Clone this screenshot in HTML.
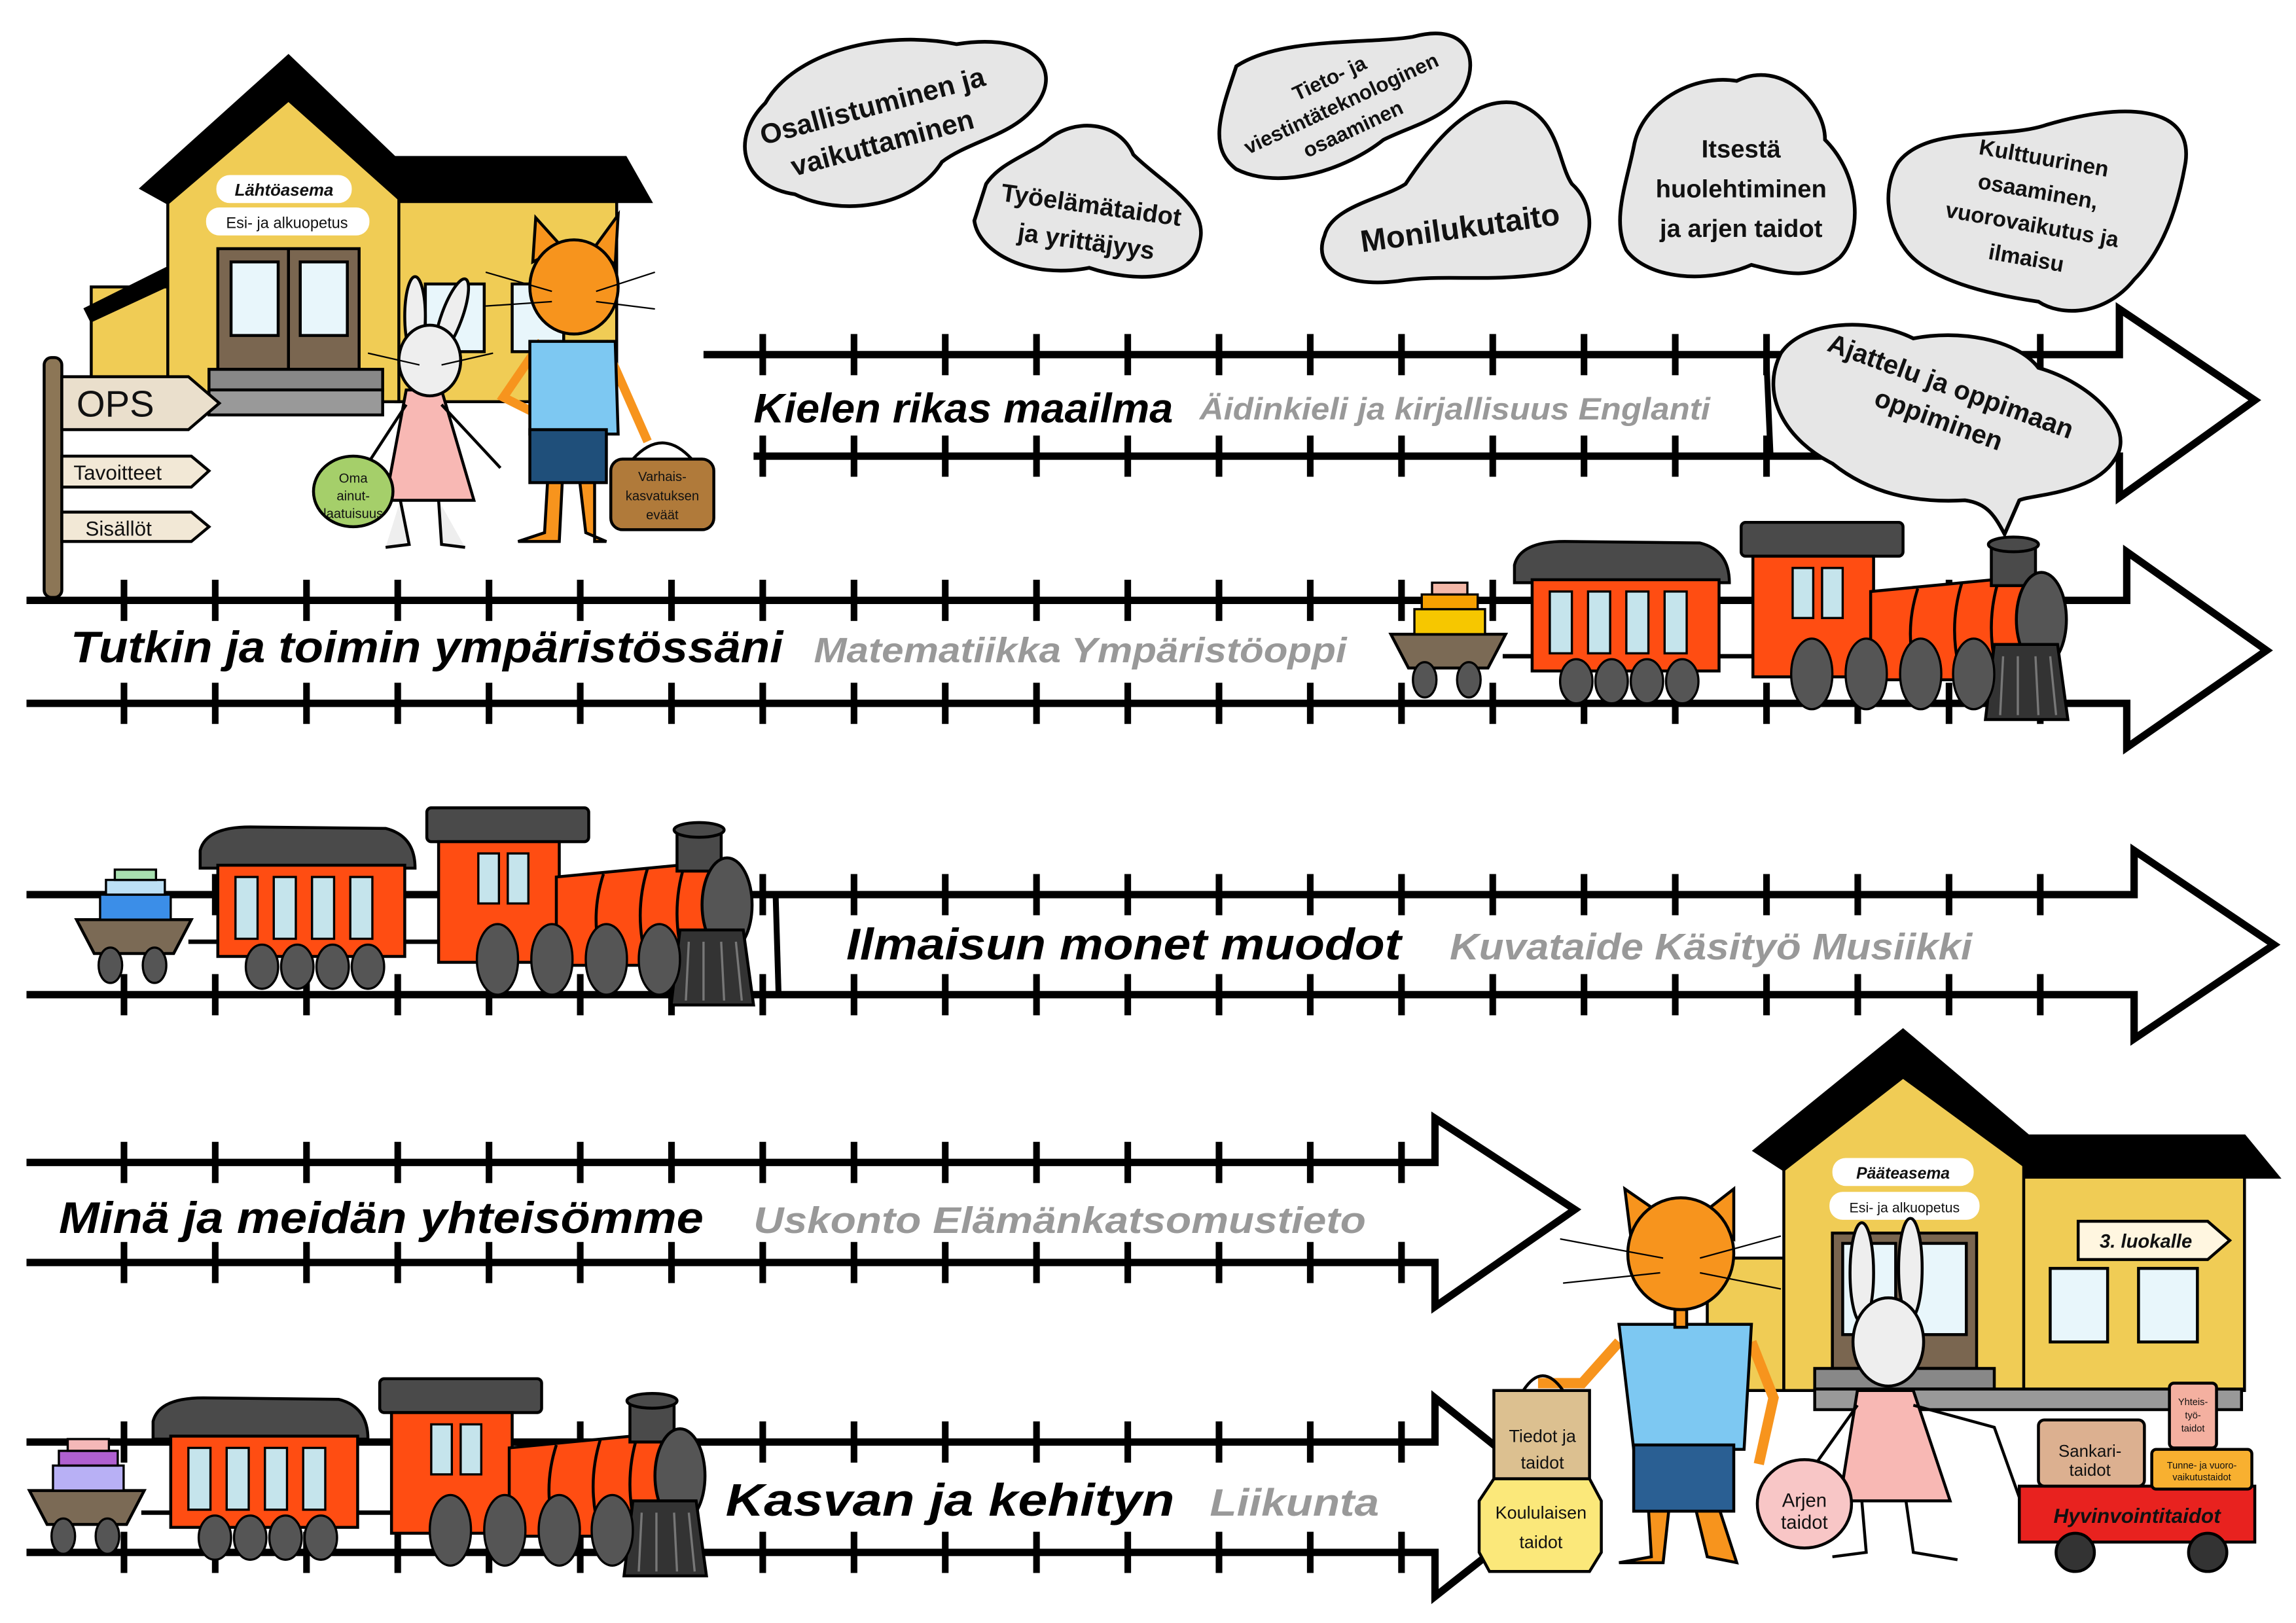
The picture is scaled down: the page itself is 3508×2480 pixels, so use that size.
<!DOCTYPE html>
<html><head><meta charset="utf-8"><style>
html,body{margin:0;padding:0;background:#fff;}
svg{display:block;}
.t{font-family:"Liberation Sans",sans-serif;font-weight:bold;font-style:italic;}
.c{font-family:"Liberation Sans",sans-serif;font-weight:bold;fill:#111;}
.s{font-family:"Liberation Sans",sans-serif;fill:#111;}
</style></head><body>
<svg width="3508" height="2480" viewBox="0 0 1560 1103" preserveAspectRatio="none" xmlns="http://www.w3.org/2000/svg">
<defs>
<pattern id="tk" patternUnits="userSpaceOnUse" width="62" height="28" x="0" y="0">
<rect x="20" y="0" width="4.5" height="28" fill="#000"/>
</pattern>
<g id="train">
  <line x1="128" y1="640" x2="152" y2="640" stroke="#000" stroke-width="3"/>
  <line x1="272" y1="640" x2="302" y2="640" stroke="#000" stroke-width="3"/>
  <path d="M52,625 L130,625 L118,648 L64,648 Z" fill="#7b6a55" stroke="#000" stroke-width="2"/>
  <ellipse cx="75" cy="656" rx="8" ry="12" fill="#555" stroke="#000" stroke-width="1.5"/>
  <ellipse cx="105" cy="656" rx="8" ry="12" fill="#555" stroke="#000" stroke-width="1.5"/>
  <path d="M136,590 L136,578 Q140,562 170,562 L262,563 Q282,568 282,590 Z" fill="#4a4a4a" stroke="#000" stroke-width="2"/>
  <rect x="148" y="588" width="127" height="62" fill="#ff4d12" stroke="#000" stroke-width="2"/>
  <rect x="160" y="596" width="15" height="42" fill="#c5e4ec" stroke="#000" stroke-width="1.5"/>
  <rect x="186" y="596" width="15" height="42" fill="#c5e4ec" stroke="#000" stroke-width="1.5"/>
  <rect x="212" y="596" width="15" height="42" fill="#c5e4ec" stroke="#000" stroke-width="1.5"/>
  <rect x="238" y="596" width="15" height="42" fill="#c5e4ec" stroke="#000" stroke-width="1.5"/>
  <ellipse cx="178" cy="657" rx="11" ry="15" fill="#555" stroke="#000" stroke-width="1.5"/>
  <ellipse cx="202" cy="657" rx="11" ry="15" fill="#555" stroke="#000" stroke-width="1.5"/>
  <ellipse cx="226" cy="657" rx="11" ry="15" fill="#555" stroke="#000" stroke-width="1.5"/>
  <ellipse cx="250" cy="657" rx="11" ry="15" fill="#555" stroke="#000" stroke-width="1.5"/>
  <rect x="290" y="549" width="110" height="23" rx="3" fill="#4a4a4a" stroke="#000" stroke-width="2"/>
  <rect x="298" y="572" width="82" height="82" fill="#ff4d12" stroke="#000" stroke-width="2"/>
  <rect x="325" y="580" width="14" height="34" fill="#c5e4ec" stroke="#000" stroke-width="1.5"/>
  <rect x="345" y="580" width="14" height="34" fill="#c5e4ec" stroke="#000" stroke-width="1.5"/>
  <path d="M378,596 L482,586 L482,656 L378,656 Z" fill="#ff4d12" stroke="#000" stroke-width="2"/>
  <path d="M410,594 Q400,625 410,655 M440,590 Q430,622 440,655 M465,588 Q455,620 465,655" fill="none" stroke="#000" stroke-width="2"/>
  <rect x="460" y="564" width="30" height="28" fill="#4a4a4a" stroke="#000" stroke-width="2"/>
  <ellipse cx="475" cy="564" rx="17" ry="5" fill="#4a4a4a" stroke="#000" stroke-width="2"/>
  <ellipse cx="494" cy="615" rx="17" ry="32" fill="#555" stroke="#000" stroke-width="2"/>
  <path d="M462,632 L505,632 L512,683 L456,683 Z" fill="#333" stroke="#000" stroke-width="2"/>
  <path d="M468,640 L466,680 M478,640 L478,680 M490,640 L492,680 M500,640 L504,680" stroke="#777" stroke-width="1.5"/>
  <ellipse cx="338" cy="652" rx="14" ry="24" fill="#555" stroke="#000" stroke-width="1.5"/>
  <ellipse cx="375" cy="652" rx="14" ry="24" fill="#555" stroke="#000" stroke-width="1.5"/>
  <ellipse cx="412" cy="652" rx="14" ry="24" fill="#555" stroke="#000" stroke-width="1.5"/>
  <ellipse cx="448" cy="652" rx="14" ry="24" fill="#555" stroke="#000" stroke-width="1.5"/>
</g>
</defs>

<!-- ROW 1 -->
<path d="M478,241 L1440,241 L1440,210 L1532,272 L1440,338 L1440,310 L512,310" fill="#fff" stroke="#000" stroke-width="5" stroke-linejoin="miter"/>
<rect x="505" y="227" width="920" height="28" fill="url(#tk)"/>
<rect x="505" y="296" width="920" height="28" fill="url(#tk)"/>
<line x1="1200" y1="241" x2="1203" y2="310" stroke="#000" stroke-width="4"/>
<rect x="505" y="258" width="680" height="36" fill="#fff"/>
<text class="t" x="512" y="287" font-size="28" textLength="285" lengthAdjust="spacingAndGlyphs">Kielen rikas maailma</text>
<text class="t" x="815" y="285" font-size="21" fill="#999" textLength="347" lengthAdjust="spacingAndGlyphs">Äidinkieli ja kirjallisuus  Englanti</text>

<!-- ROW 2 -->
<path d="M18,408 L1445,408 L1445,375 L1540,442 L1445,508 L1445,478 L18,478" fill="#fff" stroke="#000" stroke-width="5"/>
<rect x="25" y="394" width="1405" height="28" fill="url(#tk)"/>
<rect x="25" y="464" width="1405" height="28" fill="url(#tk)"/>
<rect x="30" y="425" width="920" height="36" fill="#fff"/>
<text class="t" x="48" y="450" font-size="30" textLength="484" lengthAdjust="spacingAndGlyphs">Tutkin ja toimin ympäristössäni</text>
<text class="t" x="553" y="450" font-size="24" fill="#999" textLength="362" lengthAdjust="spacingAndGlyphs">Matematiikka Ympäristöoppi</text>

<!-- ROW 3 -->
<path d="M18,608 L1450,608 L1450,578 L1545,642 L1450,706 L1450,676 L18,676" fill="#fff" stroke="#000" stroke-width="5"/>
<rect x="25" y="594" width="1410" height="28" fill="url(#tk)"/>
<rect x="25" y="662" width="1410" height="28" fill="url(#tk)"/>
<line x1="527" y1="608" x2="529" y2="676" stroke="#000" stroke-width="4"/>
<rect x="570" y="624" width="780" height="36" fill="#fff"/>
<text class="t" x="575" y="652" font-size="30" textLength="377" lengthAdjust="spacingAndGlyphs">Ilmaisun monet muodot</text>
<text class="t" x="985" y="652" font-size="25" fill="#999" textLength="355" lengthAdjust="spacingAndGlyphs">Kuvataide Käsityö Musiikki</text>

<!-- ROW 4 -->
<path d="M18,790 L975,790 L975,760 L1070,822 L975,888 L975,858 L18,858" fill="#fff" stroke="#000" stroke-width="5"/>
<rect x="25" y="776" width="940" height="28" fill="url(#tk)"/>
<rect x="25" y="844" width="940" height="28" fill="url(#tk)"/>
<rect x="30" y="808" width="910" height="36" fill="#fff"/>
<text class="t" x="40" y="838" font-size="30" textLength="438" lengthAdjust="spacingAndGlyphs">Minä ja meidän yhteisömme</text>
<text class="t" x="512" y="838" font-size="25" fill="#999" textLength="416" lengthAdjust="spacingAndGlyphs">Uskonto Elämänkatsomustieto</text>

<!-- ROW 5 -->
<path d="M18,980 L975,980 L975,950 L1060,1018 L975,1085 L975,1055 L18,1055" fill="#fff" stroke="#000" stroke-width="5"/>
<rect x="25" y="966" width="940" height="28" fill="url(#tk)"/>
<rect x="25" y="1041" width="940" height="28" fill="url(#tk)"/>
<rect x="485" y="1000" width="460" height="38" fill="#fff"/>
<text class="t" x="493" y="1030" font-size="31" textLength="305" lengthAdjust="spacingAndGlyphs">Kasvan ja kehityn</text>
<text class="t" x="822" y="1030" font-size="26" fill="#999" textLength="115" lengthAdjust="spacingAndGlyphs">Liikunta</text>

<!-- TRAINS -->
<g transform="translate(893,-194)">
  <use href="#train"/>
  <rect x="68" y="608" width="48" height="17" fill="#f6c700" stroke="#000" stroke-width="1.5"/>
  <rect x="73" y="598" width="38" height="10" fill="#f6a000" stroke="#000" stroke-width="1.5"/>
  <rect x="80" y="590" width="24" height="8" fill="#f4b8a8" stroke="#000" stroke-width="1.5"/>
</g>
<g>
  <use href="#train"/>
  <rect x="68" y="608" width="48" height="17" fill="#3b8ee8" stroke="#000" stroke-width="1.5"/>
  <rect x="72" y="598" width="40" height="10" fill="#bde0f5" stroke="#000" stroke-width="1.5"/>
  <rect x="78" y="591" width="28" height="7" fill="#a8e0b0" stroke="#000" stroke-width="1.5"/>
</g>
<g transform="translate(-32,388)">
  <use href="#train"/>
  <rect x="68" y="608" width="48" height="17" fill="#b8b0f5" stroke="#000" stroke-width="1.5"/>
  <rect x="72" y="598" width="40" height="10" fill="#b060d0" stroke="#000" stroke-width="1.5"/>
  <rect x="78" y="590" width="28" height="8" fill="#f4b8b8" stroke="#000" stroke-width="1.5"/>
</g>

<!-- CLOUDS -->
<g fill="#e6e6e6" stroke="#000" stroke-width="2.5">
<path d="M520,70 C540,35 600,20 650,30 C700,22 722,45 705,70 C690,92 660,95 640,110 C620,142 570,147 540,132 C505,127 495,95 520,70 Z"/>
<path d="M670,125 C680,110 700,105 712,95 C730,80 760,82 770,105 C790,125 822,140 815,165 C810,192 770,192 740,182 C700,190 665,172 662,150 Z"/>
<path d="M840,45 C870,25 930,30 960,25 C997,15 1005,40 995,60 C985,80 960,85 940,95 C915,115 870,130 840,115 C820,100 830,75 840,45 Z"/>
<path d="M900,160 C905,140 940,135 955,125 C975,95 1000,65 1030,70 C1060,80 1058,110 1068,125 C1090,145 1080,182 1050,186 C1010,192 980,186 950,191 C910,196 892,180 900,160 Z"/>
<path d="M1110,100 C1115,70 1150,50 1180,55 C1210,40 1240,70 1240,95 C1265,120 1265,160 1250,175 C1230,192 1210,185 1190,180 C1160,193 1120,190 1105,170 C1095,150 1105,125 1110,100 Z"/>
<path d="M1290,110 C1310,85 1360,95 1390,85 C1440,70 1490,70 1485,110 C1480,140 1470,170 1450,190 C1430,215 1400,215 1385,205 C1350,200 1310,190 1295,170 C1280,150 1280,125 1290,110 Z"/>
<path d="M1210,240 C1225,218 1270,215 1300,230 C1330,224 1370,230 1385,250 C1420,260 1452,290 1437,312 C1422,336 1380,336 1372,340 L1362,363 C1355,350 1350,342 1335,340 C1300,342 1270,335 1245,315 C1215,300 1195,270 1210,240 Z"/>
</g>
<g class="c">
<g transform="rotate(-15 596 84)" text-anchor="middle" font-size="19">
  <text x="596" y="78">Osallistuminen ja</text><text x="596" y="104">vaikuttaminen</text></g>
<g transform="rotate(8 740 150)" text-anchor="middle" font-size="17">
  <text x="740" y="145">Työelämätaidot</text><text x="740" y="170">ja yrittäjyys</text></g>
<g transform="rotate(-25 912 72)" text-anchor="middle" font-size="14">
  <text x="912" y="56">Tieto- ja</text><text x="912" y="75">viestintäteknologinen</text><text x="912" y="94">osaaminen</text></g>
<text transform="rotate(-8 992 155)" x="992" y="162" text-anchor="middle" font-size="21">Monilukutaito</text>
<g text-anchor="middle" font-size="17">
  <text x="1183" y="107">Itsestä</text><text x="1183" y="134">huolehtiminen</text><text x="1183" y="161">ja arjen taidot</text></g>
<g transform="rotate(10 1383 140)" text-anchor="middle" font-size="15">
  <text x="1383" y="112">Kulttuurinen</text><text x="1383" y="135">osaaminen,</text><text x="1383" y="158">vuorovaikutus ja</text><text x="1383" y="181">ilmaisu</text></g>
<g transform="rotate(20 1322 272)" text-anchor="middle" font-size="18">
  <text x="1322" y="268">Ajattelu ja oppimaan</text><text x="1322" y="292">oppiminen</text></g>
</g>

<!-- LEFT STATION -->
<g stroke="#000" stroke-width="2">
<rect x="62" y="195" width="55" height="78" fill="#f0cc55"/>
<path d="M58,210 L118,180 L118,192 L62,218 Z" fill="#000"/>
<rect x="269" y="130" width="150" height="143" fill="#f0cc55"/>
<path d="M262,107 L425,107 L442,137 L262,137 Z" fill="#000"/>
<path d="M114,135 L196,58 L271,135 L271,273 L114,273 Z" fill="#f0cc55"/>
<path d="M96,128 L196,38 L290,128 L271,135 L196,68 L114,138 Z" fill="#000"/>
<rect x="148" y="169" width="96" height="82" fill="#7a6650"/>
<line x1="196" y1="169" x2="196" y2="251"/>
<rect x="157" y="178" width="32" height="50" fill="#e8f6fb"/>
<rect x="204" y="178" width="32" height="50" fill="#e8f6fb"/>
<rect x="289" y="193" width="40" height="46" fill="#e8f6fb"/>
<rect x="348" y="193" width="35" height="46" fill="#e8f6fb"/>
<rect x="142" y="251" width="118" height="14" fill="#888"/>
<rect x="142" y="265" width="118" height="17" fill="#999"/>
</g>
<rect x="147" y="119" width="92" height="19" rx="9" fill="#fff"/>
<text class="t" x="193" y="133" font-size="11.5" text-anchor="middle" fill="#111">Lähtöasema</text>
<rect x="140" y="141" width="111" height="19" rx="9" fill="#fff"/>
<text class="s" x="195" y="155" font-size="10.5" text-anchor="middle">Esi- ja alkuopetus</text>

<!-- signpost -->
<rect x="30" y="243" width="12" height="163" rx="5" fill="#8c7656" stroke="#000" stroke-width="2"/>
<path d="M42,256 L128,256 L149,274 L128,292 L42,292 Z" fill="#eadfcc" stroke="#000" stroke-width="2"/>
<text class="s" x="52" y="283" font-size="25">OPS</text>
<path d="M42,310 L130,310 L142,320 L130,331 L42,331 Z" fill="#f2e8d6" stroke="#000" stroke-width="2"/>
<text class="s" x="50" y="326" font-size="14">Tavoitteet</text>
<path d="M42,348 L130,348 L142,358 L130,368 L42,368 Z" fill="#f2e8d6" stroke="#000" stroke-width="2"/>
<text class="s" x="58" y="364" font-size="14">Sisällöt</text>

<!-- bunny 1 -->
<g stroke="#000" stroke-width="2">
<ellipse cx="282" cy="215" rx="7" ry="27" fill="#eee"/>
<ellipse cx="307" cy="215" rx="7" ry="27" fill="#eee" transform="rotate(20 307 215)"/>
<path d="M272,340 L278,370 L262,372 M298,340 L300,370 L316,372" fill="#eee"/>
<path d="M276,265 L300,265 L322,340 L262,340 Z" fill="#f8b8b4"/>
<path d="M276,275 L248,318 M300,275 L340,318" fill="none"/>
<ellipse cx="292" cy="245" rx="21" ry="24" fill="#eee"/>
</g>
<path d="M250,240 L285,248 M300,248 L335,240" stroke="#000" stroke-width="1"/>
<ellipse cx="240" cy="334" rx="27" ry="24" fill="#a5cf6a" stroke="#000" stroke-width="2"/>
<text class="s" x="240" y="328" font-size="9" text-anchor="middle">Oma</text>
<text class="s" x="240" y="340" font-size="9" text-anchor="middle">ainut-</text>
<text class="s" x="240" y="352" font-size="9" text-anchor="middle">laatuisuus</text>

<!-- cat 1 -->
<g stroke="#000" stroke-width="2">
<path d="M372,328 L370,362 L352,368 L380,368 L382,328 M394,328 L398,362 L412,368 L404,368 L404,328" fill="#f7941d"/>
<path d="M368,232 L342,270 L362,280 M410,232 L440,300" fill="none" stroke="#f7941d" stroke-width="6"/>
<path d="M360,232 L418,232 L420,295 L360,295 Z" fill="#7dc8f2"/>
<rect x="360" y="292" width="52" height="36" fill="#1f4f7a"/>
<path d="M362,178 L364,148 L382,168 Z M404,168 L420,146 L418,180 Z" fill="#f7941d"/>
<ellipse cx="390" cy="195" rx="30" ry="32" fill="#f7941d"/>
<rect x="415" y="312" width="70" height="48" rx="8" fill="#b07a3a"/>
<path d="M430,312 Q450,290 470,312" fill="none"/>
</g>
<path d="M330,185 L375,198 M405,198 L445,185 M330,208 L375,205 M405,205 L445,210" stroke="#000" stroke-width="1"/>
<text class="s" x="450" y="327" font-size="9" text-anchor="middle">Varhais-</text>
<text class="s" x="450" y="340" font-size="9" text-anchor="middle">kasvatuksen</text>
<text class="s" x="450" y="353" font-size="9" text-anchor="middle">eväät</text>

<!-- RIGHT STATION -->
<g stroke="#000" stroke-width="2">
<rect x="1160" y="855" width="52" height="90" fill="#f0cc55"/>
<rect x="1372" y="795" width="153" height="150" fill="#f0cc55"/>
<path d="M1362,772 L1525,772 L1548,800 L1362,800 Z" fill="#000"/>
<path d="M1212,790 L1293,718 L1375,790 L1375,945 L1212,945 Z" fill="#f0cc55"/>
<path d="M1192,782 L1293,700 L1390,782 L1375,792 L1293,732 L1212,795 Z" fill="#000"/>
<rect x="1245" y="838" width="98" height="92" fill="#7a6650"/>
<rect x="1252" y="845" width="36" height="62" fill="#e8f6fb"/>
<rect x="1300" y="845" width="36" height="62" fill="#e8f6fb"/>
<rect x="1393" y="862" width="39" height="50" fill="#e8f6fb"/>
<rect x="1453" y="862" width="40" height="50" fill="#e8f6fb"/>
<rect x="1233" y="930" width="122" height="14" fill="#888"/>
<rect x="1233" y="944" width="290" height="14" fill="#999"/>
<path d="M1412,830 L1500,830 L1515,843 L1500,856 L1412,856 Z" fill="#fff6e0"/>
</g>
<text class="t" x="1458" y="848" font-size="13" text-anchor="middle" fill="#111">3. luokalle</text>
<rect x="1245" y="787" width="96" height="19" rx="9" fill="#fff"/>
<text class="t" x="1293" y="801" font-size="11" text-anchor="middle" fill="#111">Pääteasema</text>
<rect x="1243" y="810" width="102" height="19" rx="9" fill="#fff"/>
<text class="s" x="1294" y="824" font-size="9.5" text-anchor="middle">Esi- ja alkuopetus</text>

<!-- cat 2 -->
<g stroke="#000" stroke-width="2">
<path d="M1120,1025 L1122,1058 L1100,1062 L1130,1062 L1134,1025 M1152,1025 L1160,1058 L1180,1062 L1168,1025" fill="#f7941d"/>
<path d="M1100,912 L1075,940 L1045,940 M1190,912 L1205,950 L1195,995" fill="none" stroke="#f7941d" stroke-width="7"/>
<path d="M1100,900 L1190,900 L1185,985 L1110,985 Z" fill="#7dc8f2"/>
<rect x="1110" y="982" width="68" height="45" fill="#2a5f93"/>
<path d="M1108,840 L1104,808 L1130,826 Z M1155,826 L1178,808 L1178,842 Z" fill="#f7941d"/>
<ellipse cx="1142" cy="852" rx="36" ry="38" fill="#f7941d"/>
<path d="M1138,890 L1146,890 L1146,902 L1138,902 Z" fill="#f7941d"/>
<rect x="1015" y="945" width="65" height="60" fill="#dcc090"/>
<path d="M1035,945 Q1048,925 1062,945" fill="none"/>
<path d="M1015,1005 L1080,1005 L1088,1020 L1088,1055 L1080,1068 L1012,1068 L1005,1055 L1005,1020 Z" fill="#fbe87a"/>
</g>
<path d="M1060,842 L1130,855 M1155,855 L1210,840 M1062,872 L1128,865 M1155,865 L1210,876" stroke="#000" stroke-width="1"/>
<text class="s" x="1048" y="980" font-size="12" text-anchor="middle">Tiedot ja</text>
<text class="s" x="1048" y="998" font-size="12" text-anchor="middle">taidot</text>
<text class="s" x="1047" y="1032" font-size="12" text-anchor="middle">Koululaisen</text>
<text class="s" x="1047" y="1052" font-size="12" text-anchor="middle">taidot</text>

<!-- bunny 2 -->
<g stroke="#000" stroke-width="2">
<ellipse cx="1265" cy="865" rx="8" ry="34" fill="#eee"/>
<ellipse cx="1298" cy="862" rx="8" ry="34" fill="#eee"/>
<path d="M1265,1020 L1268,1055 L1245,1058 M1295,1020 L1300,1055 L1330,1060" fill="none"/>
<path d="M1262,945 L1300,945 L1325,1020 L1250,1020 Z" fill="#f8b8b4"/>
<path d="M1262,955 L1230,1000 M1300,955 L1355,970 L1380,1040" fill="none"/>
<ellipse cx="1283" cy="912" rx="24" ry="30" fill="#eee"/>
<ellipse cx="1226" cy="1022" rx="32" ry="30" fill="#f8c6c6"/>
<rect x="1372" y="1010" width="160" height="38" fill="#e8221f"/>
<circle cx="1410" cy="1055" r="13" fill="#333"/>
<circle cx="1500" cy="1055" r="13" fill="#333"/>
<rect x="1385" y="965" width="72" height="45" rx="4" fill="#dcb090"/>
<rect x="1462" y="985" width="68" height="27" rx="3" fill="#f8b030"/>
<rect x="1474" y="940" width="32" height="44" rx="3" fill="#f4b0a0"/>
</g>
<text class="s" x="1420" y="990" font-size="11.5" text-anchor="middle">Sankari-</text>
<text class="s" x="1420" y="1003" font-size="11.5" text-anchor="middle">taidot</text>
<text class="s" x="1496" y="998" font-size="6.5" text-anchor="middle">Tunne- ja vuoro-</text>
<text class="s" x="1496" y="1006" font-size="6.5" text-anchor="middle">vaikutustaidot</text>
<text class="s" x="1490" y="955" font-size="6.5" text-anchor="middle">Yhteis-</text>
<text class="s" x="1490" y="964" font-size="6.5" text-anchor="middle">työ-</text>
<text class="s" x="1490" y="973" font-size="6.5" text-anchor="middle">taidot</text>
<text class="t" x="1452" y="1035" font-size="14" text-anchor="middle" fill="#111">Hyvinvointitaidot</text>
<text class="s" x="1226" y="1024" font-size="13" text-anchor="middle">Arjen</text>
<text class="s" x="1226" y="1039" font-size="13" text-anchor="middle">taidot</text>
</svg>
</body></html>
